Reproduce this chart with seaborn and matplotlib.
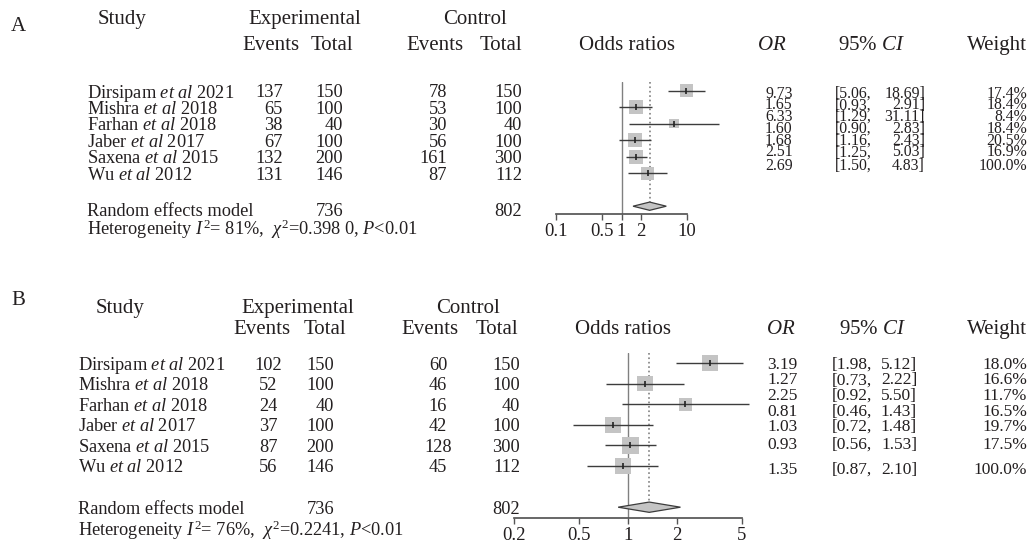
import numpy as np
import pandas as pd
import seaborn as sns
import matplotlib.pyplot as plt

# study labels
studies = ["Dirsipam", "Mishra", "Farhan", "Jaber", "Saxena", "Wu"]
years = [2021, 2018, 2018, 2017, 2015, 2012]

# panel A
a_exp_events = [137, 65, 38, 67, 132, 131]
a_exp_total = [150, 100, 40, 100, 200, 146]
a_ctl_events = [78, 53, 30, 56, 161, 87]
a_ctl_total = [150, 100, 40, 100, 300, 112]
a_or = [9.73, 1.65, 6.33, 1.60, 1.68, 2.51]
a_lo = [5.06, 0.93, 1.29, 0.90, 1.16, 1.25]
a_hi = [18.69, 2.91, 31.11, 2.83, 2.43, 5.03]
a_weight = [17.4, 18.4, 8.4, 18.4, 20.5, 16.9]
a_pooled = [2.69, 1.50, 4.83]
a_het = r"Heterogeneity $I^2$= 81%,  $\chi^2$=0.398 0, $P$<0.01"
a_ticks = [0.1, 0.5, 1, 2, 10]
a_ticklabels = ["0.1", "0.5", "1", "2", "10"]

# panel B
b_exp_events = [102, 52, 24, 37, 87, 56]
b_exp_total = [150, 100, 40, 100, 200, 146]
b_ctl_events = [60, 46, 16, 42, 128, 45]
b_ctl_total = [150, 100, 40, 100, 300, 112]
b_or = [3.19, 1.27, 2.25, 0.81, 1.03, 0.93]
b_lo = [1.98, 0.73, 0.92, 0.46, 0.72, 0.56]
b_hi = [5.12, 2.22, 5.50, 1.43, 1.48, 1.53]
b_weight = [18.0, 16.6, 11.7, 16.5, 19.7, 17.5]
b_pooled = [1.35, 0.87, 2.10]
b_het = r"Heterogeneity $I^2$= 76%,  $\chi^2$=0.2241, $P$<0.01"
b_ticks = [0.2, 0.5, 1, 2, 5]
b_ticklabels = ["0.2", "0.5", "1", "2", "5"]

total_exp, total_ctl = 736, 802

sns.set_theme(style="white")
plt.rcParams["font.family"] = ["Liberation Serif", "DejaVu Serif"]
plt.rcParams["mathtext.fontset"] = "custom"
plt.rcParams["mathtext.rm"] = "Liberation Serif"
plt.rcParams["mathtext.it"] = "Liberation Serif:italic"

W, H = 1032, 544
INK = "#231f20"
fig = plt.figure(figsize=(W / 100, H / 100), dpi=100)
bg = fig.add_axes([0, 0, 1, 1])
bg.set_xlim(0, W)
bg.set_ylim(H, 0)
bg.axis("off")


def txt(x, y, s, size=13.2, ha="left"):
    bg.text(x, y, s, fontsize=size, ha=ha, va="center_baseline", color=INK)


def forest(px, xlim, est, lo, hi, weight, pooled, ticks, ticklabels, scale):
    x0, y0, x1, y1 = px
    ax = fig.add_axes([x0 / W, 1 - y1 / H, (x1 - x0) / W, (y1 - y0) / H])
    ax.patch.set_alpha(0)
    df = pd.DataFrame({"or": est, "row": np.arange(len(est)), "w": weight})
    ax.plot([1, 1], [-0.5, 7.5], color="#808080", lw=1, zorder=1)
    ax.plot([pooled[0]] * 2, [-0.5, 6.75], color="#808080", lw=1.2, ls=":", zorder=1)
    sizes = (scale * np.sqrt(df["w"]) * 0.72) ** 2
    sns.scatterplot(data=df, x="or", y="row", marker="s", s=sizes, color="#c4c4c4",
                    edgecolor="none", linewidth=0, legend=False, ax=ax, zorder=2)
    ax.hlines(df["row"], lo, hi, color="#3c3c3c", lw=1, zorder=3)
    ax.scatter(df["or"], df["row"], marker="|", s=14, color="#222222", lw=1.2, zorder=4)
    e, l, h = pooled
    ax.fill([l, e, h, e], [7, 6.75, 7, 7.25], facecolor="#c4c4c4",
            edgecolor="#3c3c3c", lw=0.9, zorder=3)
    ax.set_xscale("log")
    ax.set_xlim(*xlim)
    ax.set_ylim(7.5, -0.5)
    ax.set_xlabel("")
    ax.set_ylabel("")
    ax.set_yticks([])
    ax.set_xticks(ticks)
    ax.set_xticklabels(ticklabels)
    ax.xaxis.set_minor_locator(plt.NullLocator())
    for s in ["left", "right", "top"]:
        ax.spines[s].set_visible(False)
    ax.spines["bottom"].set_bounds(ticks[0], ticks[-1])
    ax.spines["bottom"].set_color("#555555")
    ax.tick_params(axis="x", bottom=True, direction="out", length=4.5, width=1,
                   color="#555555", labelsize=13.5, labelcolor=INK, pad=2)
    return ax


def panel(label, label_y, top, name_x, rows, col_x, hdr, exp_e, exp_t, ctl_e, ctl_t,
          est, lo, hi, weight, pooled, het, right_rows, right_x, right_size):
    txt(11, label_y, label, size=15)
    txt(hdr["study"], top, "Study", size=15, ha="center")
    txt(hdr["exp"], top, "Experimental", size=15, ha="center")
    txt(hdr["ctl"], top, "Control", size=15, ha="center")
    y2 = hdr["y2"]
    txt(hdr["ev1"], y2, "Events", size=15, ha="center")
    txt(hdr["tot1"], y2, "Total", size=15, ha="center")
    txt(hdr["ev2"], y2, "Events", size=15, ha="center")
    txt(hdr["tot2"], y2, "Total", size=15, ha="center")
    txt(hdr["odds"], y2, "Odds ratios", size=15, ha="center")
    txt(hdr["or"], y2, r"$OR$", size=15, ha="center")
    txt(hdr["ci"], y2, r"95% $CI$", size=15, ha="center")
    txt(1027, y2, "Weight", size=15, ha="right")
    for i, y in enumerate(rows[:6]):
        txt(name_x, y, r"%s $\mathit{et\ al}$ %d" % (studies[i], years[i]))
        txt(col_x[0], y, str(exp_e[i]), ha=col_x[4])
        txt(col_x[1], y, str(exp_t[i]), ha="right")
        txt(col_x[2], y, str(ctl_e[i]), ha=col_x[5])
        txt(col_x[3], y, str(ctl_t[i]), ha="right")
    txt(name_x, rows[6], "Random effects model")
    txt(col_x[1], rows[6], str(total_exp), ha="right")
    txt(col_x[3], rows[6], str(total_ctl), ha="right")
    txt(name_x, rows[7], het)
    r_est = est + [pooled[0]]
    r_lo = lo + [pooled[1]]
    r_hi = hi + [pooled[2]]
    r_w = weight + [100.0]
    for i, y in enumerate(right_rows):
        txt(right_x[0], y, "%.2f" % r_est[i], size=right_size)
        txt(right_x[1], y, "[%.2f," % r_lo[i], size=right_size)
        txt(right_x[2], y, "%.2f]" % r_hi[i], size=right_size, ha="right")
        txt(1027, y, "%.1f%%" % r_w[i], size=right_size, ha="right")


# panel A
a_rows = [90.7 + 16.5 * i for i in range(6)] + [209, 226]
a_right = [91.5, 103.3, 115.1, 126.9, 138.7, 150.5, 164]
panel("A", 24, 17, 87, a_rows, [283, 343, 447, 522, "right", "right"],
      dict(study=122, exp=305, ctl=475, y2=43, ev1=271, tot1=332, ev2=435, tot2=501,
           odds=627, **{"or": 772}, ci=872),
      a_exp_events, a_exp_total, a_ctl_events, a_ctl_total,
      a_or, a_lo, a_hi, a_weight, a_pooled, a_het, a_right, [765, 835, 925], 11.3)
forest((530, 82.45, 740, 214.45), (10 ** (-91.5 / 65.5), 10 ** (118.5 / 65.5)),
       a_or, a_lo, a_hi, a_weight, a_pooled, a_ticks, a_ticklabels, 3.15)

# panel B
b_rows = [363 + 20.6 * i for i in range(6)] + [508, 527]
b_right = [363, 378.5, 394, 409.5, 425, 443, 468]
panel("B", 298, 306, 78, b_rows, [268, 334, 438, 520, "center", "center"],
      dict(study=120, exp=298, ctl=468, y2=327, ev1=262, tot1=325, ev2=430, tot2=497,
           odds=623, **{"or": 781}, ci=873),
      b_exp_events, b_exp_total, b_ctl_events, b_ctl_total,
      b_or, b_lo, b_hi, b_weight, b_pooled, b_het, b_right, [767, 832, 917], 12.5)
forest((500, 352.7, 760, 517.5), (10 ** (-128 / 162.8), 10 ** (132 / 162.8)),
       b_or, b_lo, b_hi, b_weight, b_pooled, b_ticks, b_ticklabels, 3.85)

fig.savefig("out.png", dpi=100)
